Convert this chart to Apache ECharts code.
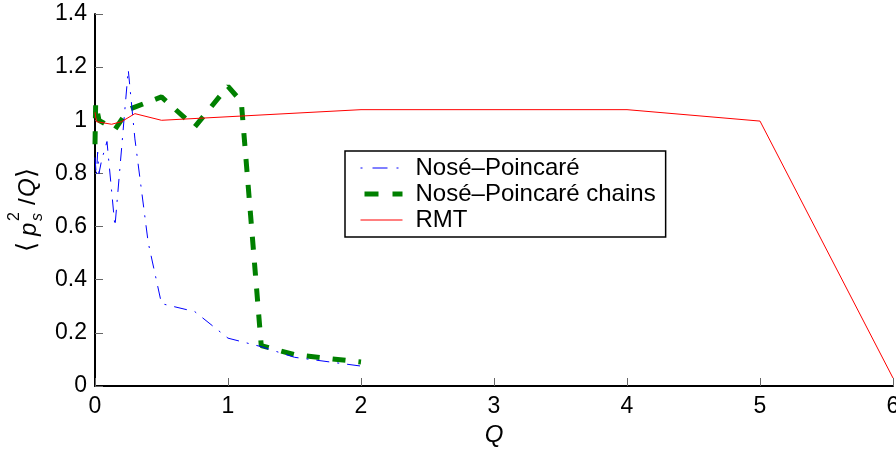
<!DOCTYPE html>
<html>
<head>
<meta charset="utf-8">
<script src="https://cdn.jsdelivr.net/npm/echarts@6/dist/echarts.min.js"></script>
<style>
html,body{margin:0;padding:0;background:#fff;}
#chart{width:896px;height:454px;}
</style>
</head>
<body>
<div id="chart"></div>
<script>
// Nosé–Poincaré (blue dash-dot)
const npQ   = [0, 0.01, 0.02, 0.03, 0.05, 0.09, 0.15, 0.25, 0.3, 0.4, 0.5, 0.75, 1.0, 1.25, 1.5, 2.0];
const npVal = [0.86, 0.79, 0.88, 0.80, 0.85, 0.92, 0.60, 1.19, 0.93, 0.54, 0.31, 0.28, 0.18, 0.148, 0.108, 0.075];
// Nosé–Poincaré chains (green dashed)
const npcQ   = [0, 0.005, 0.03, 0.15, 0.25, 0.5, 0.75, 1.0, 1.1, 1.25, 1.5, 2.0];
const npcVal = [0.91, 1.065, 1.0, 0.965, 1.04, 1.088, 0.975, 1.128, 1.07, 0.152, 0.118, 0.09];
// RMT (red solid)
const rmtQ   = [0, 0.01, 0.125, 0.2, 0.3, 0.5, 2.0, 4.0, 5.0, 6.0];
const rmtVal = [1.03, 0.995, 0.985, 0.995, 1.025, 1.0, 1.04, 1.04, 0.997, 0.03];

const xTicks = [0, 1, 2, 3, 4, 5, 6];
const yTicks = [0, 0.2, 0.4, 0.6, 0.8, 1, 1.2, 1.4];

const seriesNames = ['Nosé–Poincaré', 'Nosé–Poincaré chains', 'RMT'];

function pairs(xs, ys) { return xs.map((x, i) => [x, ys[i]]); }

const FONT = 'Liberation Sans, Arial, Helvetica, sans-serif';
const BFONT = 'DejaVu Sans, sans-serif';
const chart = echarts.init(document.getElementById('chart'));

chart.setOption({
  animation: false,
  backgroundColor: '#fff',
  grid: { left: 95, right: 3, top: 14, bottom: 68, containLabel: false, outerBoundsMode: 'none' },
  xAxis: {
    type: 'value', min: xTicks[0], max: xTicks[xTicks.length - 1], interval: 1,
    name: 'Q', nameLocation: 'middle', nameGap: 37,
    nameTextStyle: { fontFamily: FONT, fontSize: 24, fontStyle: 'italic', color: '#000' },
    axisLine: { show: true, onZero: false, lineStyle: { color: '#000', width: 2 } },
    axisTick: { show: true, inside: true, length: 8, lineStyle: { color: '#666', width: 1 } },
    axisLabel: { fontFamily: FONT, fontSize: 23, color: '#000', margin: 9 },
    splitLine: { show: false }
  },
  yAxis: {
    type: 'value', min: yTicks[0], max: yTicks[yTicks.length - 1], interval: 0.2,
    axisLine: { show: true, onZero: false, lineStyle: { color: '#000', width: 2 } },
    axisTick: { show: true, inside: true, length: 8, lineStyle: { color: '#666', width: 1 } },
    axisLabel: { fontFamily: FONT, fontSize: 23, color: '#000', margin: 8 },
    splitLine: { show: false }
  },
  legend: {
    orient: 'vertical', left: 345, top: 151,
    backgroundColor: '#fff', borderColor: '#000', borderWidth: 1.5,
    padding: [4, 10, 4, 13], itemGap: 0, itemWidth: 42, itemHeight: 14,
    itemStyle: { opacity: 0 },
    textStyle: { fontFamily: FONT, fontSize: 24, color: '#000', lineHeight: 26, padding: [0, 0, 0, 8] },
    data: [
      { name: seriesNames[0], lineStyle: { color: '#0000ff', width: 1, type: [15, 9, 2, 10], dashOffset: 24, opacity: 1 } },
      { name: seriesNames[1], lineStyle: { color: '#008000', width: 5, type: [14, 14], cap: 'butt', opacity: 1 } },
      { name: seriesNames[2], lineStyle: { color: '#ff0000', width: 1, opacity: 1 } }
    ]
  },
  series: [
    {
      name: seriesNames[0], type: 'line', data: pairs(npQ, npVal),
      showSymbol: false, symbol: 'none',
      lineStyle: { color: '#0000ff', width: 1, type: [13, 8, 2, 8] },
      itemStyle: { color: '#0000ff' }, z: 3
    },
    {
      name: seriesNames[1], type: 'line', data: pairs(npcQ, npcVal),
      showSymbol: false, symbol: 'none',
      lineStyle: { color: '#008000', width: 5, type: [13, 13], cap: 'butt' },
      itemStyle: { color: '#008000' }, z: 2
    },
    {
      name: seriesNames[2], type: 'line', data: pairs(rmtQ, rmtVal),
      showSymbol: false, symbol: 'none',
      lineStyle: { color: '#ff0000', width: 1 },
      itemStyle: { color: '#ff0000' }, z: 4
    }
  ],
  graphic: [{
    type: 'group', x: 28, y: 252, rotation: Math.PI / 2,
    children: [
      { type: 'text', style: { text: '⟨', x: 0, y: 0, font: '26px ' + BFONT, fill: '#000', verticalAlign: 'middle' } },
      { type: 'text', style: { text: 'p', x: 16, y: 1, font: 'italic 24px ' + FONT, fill: '#000', verticalAlign: 'middle' } },
      { type: 'text', style: { text: '2', x: 31, y: -13, font: '16px ' + FONT, fill: '#000', verticalAlign: 'middle' } },
      { type: 'text', style: { text: 's', x: 31, y: 10, font: 'italic 16px ' + FONT, fill: '#000', verticalAlign: 'middle' } },
      { type: 'text', style: { text: '/', x: 47, y: 0, font: '24px ' + FONT, fill: '#000', verticalAlign: 'middle' } },
      { type: 'text', style: { text: 'Q', x: 55, y: 0, font: 'italic 24px ' + FONT, fill: '#000', verticalAlign: 'middle' } },
      { type: 'text', style: { text: '⟩', x: 74, y: 0, font: '26px ' + BFONT, fill: '#000', verticalAlign: 'middle' } }
    ]
  }]
});
</script>
</body>
</html>
